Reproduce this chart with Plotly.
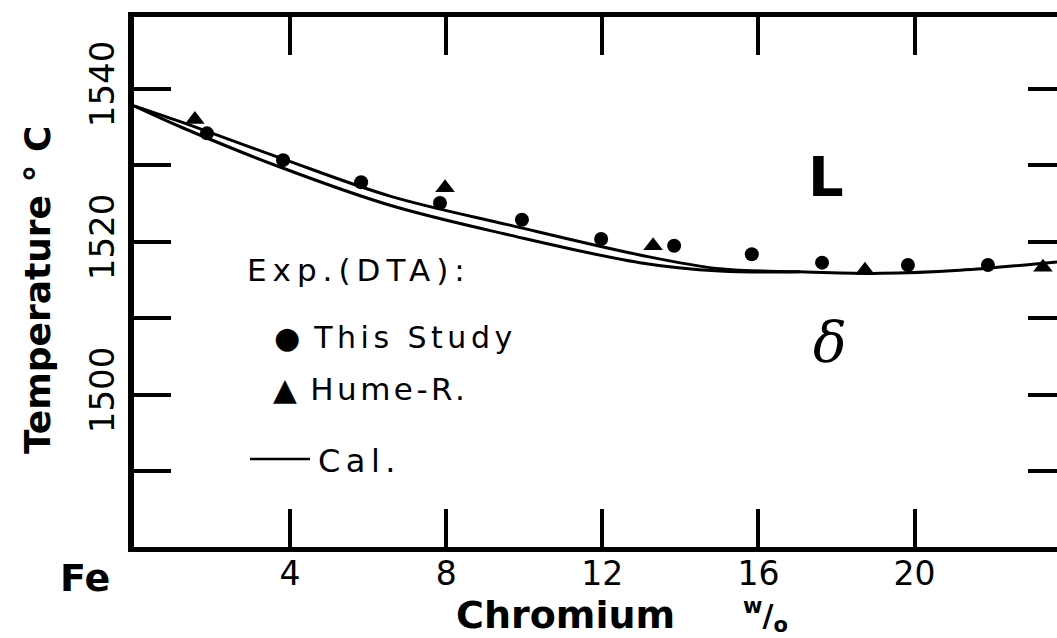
import plotly.graph_objects as go

# ---- data ----
cr_this = [1.87, 3.82, 5.82, 7.84, 9.94, 11.97, 13.84, 15.83, 17.63, 19.83, 21.88]
t_this = [1534.2, 1530.7, 1527.8, 1525.1, 1522.9, 1520.4, 1519.5, 1518.4, 1517.3, 1517.0, 1517.0]

cr_hume = [1.56, 7.97, 13.3, 18.73, 23.29]
t_hume = [1536.0, 1527.1, 1519.5, 1516.3, 1516.7]

cr_cal_upper = [0, 1.26, 3.74, 6.56, 9.63, 12.96, 15.01, 17.06, 19.11, 21.16, 23.65]
t_cal_upper = [1537.8, 1535.6, 1531.0, 1526.0, 1522.2, 1518.3, 1516.5, 1516.1, 1515.9, 1516.3, 1517.4]

cr_cal_lower = [0, 1.26, 3.74, 6.56, 9.63, 12.96, 15.01, 17.06]
t_cal_lower = [1537.8, 1534.9, 1529.8, 1524.8, 1520.9, 1517.3, 1516.2, 1516.1]

x_tickvals = [4, 8, 12, 16, 20]
x_ticktext = ["4", "8", "12", "16", "20"]
y_tickvals = [1500, 1520, 1540]
y_ticktext = ["1500", "1520", "1540"]
y_all_ticks = [1490, 1500, 1510, 1520, 1530, 1540]

X_RANGE = [0, 23.65]
Y_RANGE = [1480.13, 1549.41]

# ---- figure geometry ----
W, H = 1057, 638
ML, MR, MT, MB = 134, 0, 17, 91
PW = W - ML - MR
PH = H - MT - MB


def px(x):
    return (x - ML) / PW


def py(y):
    return (H - MB - y) / PH


SANS = "DejaVu Sans"
BLACK = "black"

fig = go.Figure()

fig.add_trace(go.Scatter(
    x=cr_cal_upper, y=t_cal_upper, mode="lines", name="Cal.",
    line=dict(color=BLACK, width=3, shape="spline", smoothing=1.0),
    showlegend=False,
))
fig.add_trace(go.Scatter(
    x=cr_cal_lower, y=t_cal_lower, mode="lines", name="Cal. (2)",
    line=dict(color=BLACK, width=3, shape="spline", smoothing=1.0),
    showlegend=False,
))
fig.add_trace(go.Scatter(
    x=cr_this, y=t_this, mode="markers", name="This Study",
    marker=dict(symbol="circle", size=14, color=BLACK),
    showlegend=False,
))
fig.add_trace(go.Scatter(
    x=cr_hume, y=t_hume, mode="markers", name="Hume-R.",
    marker=dict(symbol="triangle-up", size=17, color=BLACK),
    showlegend=False,
))
# invisible trace so the right-hand tick axis is rendered
fig.add_trace(go.Scatter(
    x=[None], y=[None], yaxis="y2", mode="markers", showlegend=False,
    hoverinfo="skip",
))

fig.update_layout(
    width=W, height=H,
    margin=dict(l=ML, r=MR, t=MT, b=MB, pad=0),
    paper_bgcolor="white", plot_bgcolor="white",
    showlegend=False,
    font=dict(family=SANS, color=BLACK),
    xaxis=dict(
        range=X_RANGE, tickvals=x_tickvals, ticktext=x_ticktext,
        ticks="inside", ticklen=38, tickwidth=4, tickcolor=BLACK,
        showline=True, linewidth=5, linecolor=BLACK, mirror="ticks",
        showgrid=False, zeroline=False, ticklabelstandoff=-7,
        tickfont=dict(family=SANS, size=33, color=BLACK),
    ),
    yaxis=dict(
        range=Y_RANGE, tickvals=y_tickvals, ticktext=y_ticktext,
        ticks="inside", ticklen=37, tickwidth=4, tickcolor=BLACK,
        minor=dict(tickvals=y_all_ticks, ticks="inside", ticklen=37,
                   tickwidth=4, tickcolor=BLACK, showgrid=False),
        showline=True, linewidth=6, linecolor=BLACK, mirror=False,
        showgrid=False, zeroline=False, tickangle=-90,
        tickfont=dict(family=SANS, size=34, color=BLACK),
    ),
    yaxis2=dict(
        range=Y_RANGE, tickvals=y_all_ticks, overlaying="y", side="right",
        anchor="x", ticks="inside", ticklen=29, tickwidth=4, tickcolor=BLACK,
        showticklabels=False, showline=False, showgrid=False, zeroline=False,
    ),
)

ann = []


def text(x, y, s, size, bold=False, family=SANS, angle=0, xanchor="center", italic=False):
    st = "italic" if italic else "normal"
    ann.append(dict(
        x=px(x), y=py(y), xref="paper", yref="paper", text=s, showarrow=False,
        xanchor=xanchor, yanchor="middle", textangle=angle,
        font=dict(family=family, size=size, color=BLACK,
                  weight="bold" if bold else "normal", style=st),
    ))


def spaced(s, sp):
    return '<span style="letter-spacing:%spx">%s</span>' % (sp, s)


text(245, 270, spaced("Exp.(DTA):", 6), 31, xanchor="left")
text(272, 337, "●" + spaced(" This Study", 4.5), 30, xanchor="left")
text(271, 389, "▲" + spaced(" Hume-R.", 3.5), 31, xanchor="left")
text(316, 461, spaced("Cal.", 5.5), 32, xanchor="left")
text(826, 176, "L", 56, bold=True)
text(830, 342, "δ", 56, family="DejaVu Serif", italic=True)
text(85, 578, "Fe", 38, bold=True)
text(565, 615, "Chromium", 38, bold=True)
text(765, 615, "<sup>w</sup>/<sub>o</sub>", 30, bold=True)
text(37, 290, "Temperature ° C", 36, bold=True, angle=-90)

fig.update_layout(annotations=ann)

fig.add_shape(type="line", xref="paper", yref="paper",
              x0=px(250), x1=px(310), y0=py(459), y1=py(459),
              line=dict(color=BLACK, width=2.5))

fig.write_html("out.html")
